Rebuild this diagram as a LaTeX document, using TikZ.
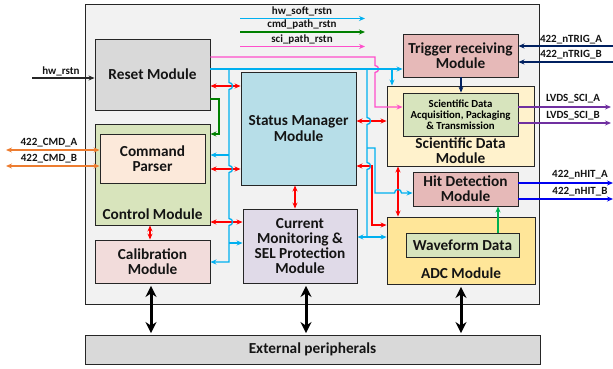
\documentclass[tikz,border=0pt]{standalone}
\usepackage{fontspec}
\setmainfont{Carlito}
\usetikzlibrary{arrows.meta,calc}
\definecolor{cFrame}{HTML}{F2F2F2}
\definecolor{cReset}{HTML}{D9D9D9}
\definecolor{cCtrl}{HTML}{D8E4BC}
\definecolor{cParser}{HTML}{FCE9DA}
\definecolor{cCalib}{HTML}{F2DCDB}
\definecolor{cStatus}{HTML}{B7DEE8}
\definecolor{cCurr}{HTML}{E0DAE8}
\definecolor{cTrig}{HTML}{E6B9B8}
\definecolor{cSci}{HTML}{FFF2CC}
\definecolor{cSciIn}{HTML}{D7E4BD}
\definecolor{cAdc}{HTML}{FFE699}
\definecolor{cBorder}{HTML}{262626}
\definecolor{lCyan}{HTML}{00B0F0}
\definecolor{lGreen}{HTML}{008000}
\definecolor{lPink}{HTML}{FF4FCB}
\definecolor{lRed}{HTML}{FF0000}
\definecolor{lOrange}{HTML}{ED7D31}
\definecolor{lNavy}{HTML}{002060}
\definecolor{lPurple}{HTML}{7030A0}
\definecolor{lBlue}{HTML}{0000F0}
\definecolor{lLGreen}{HTML}{00B050}
\begin{document}
\begin{tikzpicture}[x=1pt,y=-1pt,
  box/.style={draw=cBorder,line width=0.9pt,inner sep=0pt},
  big/.style={font=\bfseries\fontsize{15.3}{15.2}\selectfont,align=center,text=black!92},
  small/.style={font=\bfseries\fontsize{11}{12}\selectfont,align=center,text=black!92},
  tip/.tip={Stealth[length=6pt,width=5pt]},
  conn/.style={line width=1.3pt},
  cy/.style={conn,draw=lCyan},
  rd/.style={conn,draw=lRed},
  pk/.style={conn,draw=lPink},
  gr/.style={conn,draw=lGreen},
  thk/.style={line width=3pt,{Stealth[length=11pt,width=11pt]}-{Stealth[length=11pt,width=11pt]},shorten <=2.5pt,shorten >=1.5pt}
]
\useasboundingbox (0,0) rectangle (613,368);
% frame and external
\node[box,fill=cFrame,minimum width=454,minimum height=300] (frame) at (312,154) {};
\node[box,fill=cReset,minimum width=455,minimum height=29,big] (ext) at (312.5,349.5) {External peripherals};
% left column
\node[box,fill=cReset,minimum width=115,minimum height=71,big] (reset) at (152.5,74.5) {Reset Module};
\node[box,fill=cCtrl,minimum width=115,minimum height=101] (ctrl) at (152.5,174.5) {};
\node[big] (ctrltxt) at (152.5,214.5) {Control Module};
\node[box,fill=cParser,minimum width=105,minimum height=49.5,big] (parser) at (152.5,158.75) {Command\\Parser};
\node[box,fill=cCalib,minimum width=115,minimum height=43,big] (calib) at (152.5,261.5) {Calibration\\Module};
% middle
\node[box,fill=cStatus,minimum width=115,minimum height=113,big] (status) at (298.5,128.5) {Status Manager\\Module};
\node[box,fill=cCurr,minimum width=114,minimum height=74,big] (curr) at (300,246) {Current\\Monitoring \&\\SEL Protection\\Module};
% right
\node[box,fill=cTrig,minimum width=115,minimum height=43,big] (trig) at (460.5,55.5) {Trigger receiving\\Module};
\node[box,fill=cSci,minimum width=147,minimum height=80] (sci) at (460.5,126) {};
\node[big] (scitxt) at (460.5,150.5) {Scientific Data\\Module};
\node[box,fill=cSciIn,minimum width=115,minimum height=43,font=\bfseries\fontsize{10.8}{11}\selectfont,align=center] (sciin) at (460.5,114.5) {Scientific Data\\Acquisition, Packaging\\\& Transmission};
\node[box,fill=cTrig,minimum width=105,minimum height=34,big] (hit) at (465.5,189) {Hit Detection\\Module};
\node[box,fill=cAdc,minimum width=148,minimum height=67] (adc) at (461,250.5) {};
\node[big] (adctxt) at (461,273) {ADC Module};
\node[box,fill=cSciIn,minimum width=113,minimum height=24,big] (wave) at (462.5,245) {Waveform Data};

% legend
\coordinate (lg1a) at (240,18.5); \coordinate (lg1b) at (365,18.5);
\coordinate (lg2a) at (240,32);   \coordinate (lg2b) at (365,32);
\coordinate (lg3a) at (240,46.5); \coordinate (lg3b) at (365,46.5);
\draw[cy,-tip] (lg1a) -- (lg1b);
\draw[gr,-tip] (lg2a) -- (lg2b);
\draw[pk,-tip] (lg3a) -- (lg3b);
\node[small] (t1) at (302,11) {hw\_soft\_rstn};
\node[small] (t2) at (302,25) {cmd\_path\_rstn};
\node[small] (t3) at (302,40) {sci\_path\_rstn};

% external left signals
\coordinate (hwin) at (32,78);
\draw[conn,draw=black!85,-tip] (hwin) -- (hwin -| reset.west);
\node[small] (thw) at (61,71) {hw\_rstn};
\coordinate (cmdA) at (6,150);
\coordinate (cmdB) at (6,166);
\draw[conn,draw=lOrange,tip-tip] (cmdA) -- (cmdA -| parser.west);
\draw[conn,draw=lOrange,tip-tip] (cmdB) -- (cmdB -| parser.west);
\node[small] (tcA) at (49,143) {422\_CMD\_A};
\node[small] (tcB) at (49,158.5) {422\_CMD\_B};

% external right signals
\coordinate (trA) at (613,46);
\coordinate (trB) at (613,62);
\draw[conn,draw=lNavy,-tip] (trA) -- (trA -| trig.east);
\draw[conn,draw=lNavy,-tip] (trB) -- (trB -| trig.east);
\node[small] (ttA) at (571,40) {422\_nTRIG\_A};
\node[small] (ttB) at (571,55) {422\_nTRIG\_B};
\coordinate (lvA) at (611,107);
\coordinate (lvB) at (611,123);
\draw[conn,draw=lPurple,-tip] (sciin.east |- lvA) -- (lvA);
\draw[conn,draw=lPurple,-tip] (sciin.east |- lvB) -- (lvB);
\node[small] (tlA) at (573,99) {LVDS\_SCI\_A};
\node[small] (tlB) at (573,116) {LVDS\_SCI\_B};
\coordinate (htA) at (613,183);
\coordinate (htB) at (613,199);
\draw[conn,draw=lBlue,-tip] (hit.east |- htA) -- (htA);
\draw[conn,draw=lBlue,-tip] (hit.east |- htB) -- (htB);
\node[small] (thA) at (580,174.5) {422\_nHIT\_A};
\node[small] (thB) at (580,192) {422\_nHIT\_B};

% internal straight connectors
\draw[conn,draw=lNavy,-tip] (trig.south -| 461,0) -- (sciin.north -| 461,0);
\draw[conn,draw=lLGreen,-tip] (wave.north -| 498,0) -- (hit.south -| 498,0);
\draw[gr,-tip] (reset.east |- 0,99) -- (219,99) -- (219,134) -- (ctrl.east |- 0,134);

% red
\draw[rd,tip-tip] (reset.east |- 0,86) -- (status.west |- 0,86);
\draw[rd,tip-tip] (ctrl.east |- 0,169) -- (status.west |- 0,169);
\draw[rd,tip-tip] (ctrl.east |- 0,222) -- (curr.west |- 0,222);
\draw[rd,tip-tip] (ctrl.south -| 150,0) -- (calib.north -| 150,0);
\draw[rd,tip-tip] (status.south -| 295,0) -- (curr.north -| 295,0);
\draw[rd,tip-tip] (status.east |- 0,121) -- (sci.west |- 0,121);
\draw[rd,tip-tip] (status.east |- 0,166) -- (372,166) -- (372,225) -- (adc.west |- 0,225);
\draw[rd,tip-tip] (sci.south -| 398,0) -- (adc.north -| 398,0);

% pink
\draw[pk,-tip] (reset.east |- 0,57) -- (375,57) -- (375,65.5) .. controls (379.7,65.5) and (379.7,72.5) .. (375,72.5) -- (375,107) -- (sciin.west |- 0,107);

% cyan
\coordinate (cL) at (229,69);
\coordinate (cR) at (367,69);
\coordinate (cT) at (392,69);
\draw[cy,-tip] (reset.east |- 0,69) -- (trig.west |- 0,69);
\draw[cy,-tip] (cT) -- (sci.north -| cT);
\draw[cy,-tip] (cL) -- (229,82.5) .. controls (233.7,82.5) and (233.7,89.5) .. (229,89.5)
  -- (229,165.5) .. controls (233.7,165.5) and (233.7,172.5) .. (229,172.5)
  -- (229,218.5) .. controls (233.7,218.5) and (233.7,225.5) .. (229,225.5)
  -- (229,262) -- (calib.east |- 0,262);
\coordinate (cL2) at (229,155);
\coordinate (cL3) at (229,243);
\draw[cy,-tip] (cL2) -- (ctrl.east |- cL2);
\draw[cy,-tip] (cL3) -- (curr.west |- cL3);
\coordinate (cR3) at (367,237);
\draw[cy] (cR) -- (367,117.5) .. controls (371.7,117.5) and (371.7,124.5) .. (367,124.5)
  -- (367,162.5) .. controls (371.7,162.5) and (371.7,169.5) .. (367,169.5)
  -- (cR3);
\draw[cy,tip-tip] (curr.east |- cR3) -- (adc.west |- cR3);
\coordinate (cR2) at (367,148);
\draw[cy,-tip] (cR2) -- (375,148) -- (375,193) -- (394.5,193) .. controls (394.5,188.3) and (401.5,188.3) .. (401.5,193) -- (hit.west |- 0,193);

% thick black
\draw[thk] (calib.south -| 151,0) -- (ext.north -| 151,0);
\draw[thk] (curr.south -| 306,0) -- (ext.north -| 306,0);
\draw[thk] (adc.south -| 461,0) -- (ext.north -| 461,0);
\end{tikzpicture}
\end{document}
